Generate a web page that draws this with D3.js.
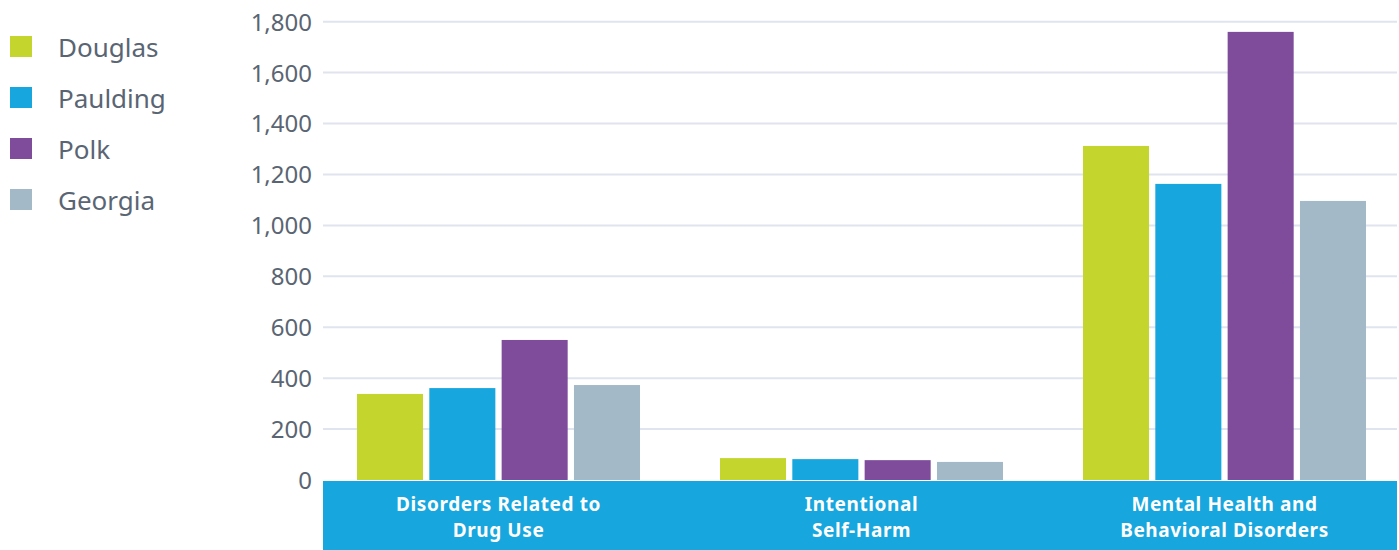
<!DOCTYPE html>
<html><head><meta charset="utf-8">
<script src="https://cdn.jsdelivr.net/npm/d3@7"></script>
<style>
body{margin:0;background:#fff;}
svg{display:block;font-family:"Noto Sans",sans-serif;}
</style></head>
<body><svg id="c" width="1399" height="550"></svg>
<script>
const categories = [["Disorders Related to","Drug Use"],["Intentional","Self-Harm"],["Mental Health and","Behavioral Disorders"]];
const seriesNames = ["Douglas","Paulding","Polk","Georgia"];
const douglas = [338, 86, 1312];
const paulding = [361, 82, 1163];
const polk = [550, 78, 1760];
const georgia = [373, 71, 1096];
const yTicks = [0,200,400,600,800,1000,1200,1400,1600,1800];
const colors = ["#c4d52e","#17a6de","#7f4c9c","#a4b9c7"];

const series = [douglas, paulding, polk, georgia];
const svg = d3.select("#c");
const textColor = "#5a6573";
const font = "'Noto Sans',sans-serif";

const y = d3.scaleLinear().domain([0,1800]).range([480,21.7]);
const x0 = d3.scaleBand().domain(d3.range(categories.length)).range([317,1406]).paddingInner(0).paddingOuter(0);
const x1 = d3.scaleBand().domain(d3.range(seriesNames.length)).range([40, x0.bandwidth()-40]).paddingInner(0.087).paddingOuter(0);

// gridlines
svg.append("g").selectAll("line").data(yTicks.filter(d=>d>0)).join("line")
  .attr("x1",323).attr("x2",1397)
  .attr("y1",d=>y(d)).attr("y2",d=>y(d))
  .attr("stroke","#dfe4ee").attr("stroke-width",2);

// y axis labels
const yAxis = d3.axisLeft(y).tickValues(yTicks).tickSize(0).tickPadding(0).tickFormat(d3.format(","));
const ya = svg.append("g").attr("transform","translate(312,0)").call(yAxis);
ya.select(".domain").remove();
ya.selectAll("text").attr("fill",textColor).style("font-size","24px").style("font-family",font).attr("dy","0.35em");

// bars
const groups = svg.append("g").selectAll("g").data(categories).join("g")
  .attr("transform",(d,i)=>`translate(${x0(i)},0)`);
groups.selectAll("rect").data((d,i)=>series.map((s,j)=>({j,v:s[i]}))).join("rect")
  .attr("x",d=>x1(d.j)).attr("width",x1.bandwidth())
  .attr("y",d=>y(d.v)).attr("height",d=>y(0)-y(d.v))
  .attr("fill",d=>colors[d.j]);

// category band
svg.append("rect").attr("x",323).attr("y",481).attr("width",1074).attr("height",69).attr("fill","#17a6de");
const lab = svg.append("g").selectAll("text").data(categories).join("text")
  .attr("x",(d,i)=>x0(i)+x0.bandwidth()/2).attr("y",511)
  .attr("text-anchor","middle").attr("fill","#fff")
  .style("font-size","19px").style("font-weight","bold").style("letter-spacing","0.6px");
lab.selectAll("tspan").data(d=>d).join("tspan")
  .attr("x",function(){return d3.select(this.parentNode).attr("x");})
  .attr("dy",(d,i)=>i===0?0:26).text(d=>d);

// legend
const leg = svg.append("g").selectAll("g").data(seriesNames).join("g")
  .attr("transform",(d,i)=>`translate(10,${36+i*51})`);
leg.append("rect").attr("width",22).attr("height",21).attr("fill",(d,i)=>colors[i]);
leg.append("text").attr("x",48).attr("y",21)
  .attr("fill",textColor).style("font-size","26px").text(d=>d);
</script></body></html>
